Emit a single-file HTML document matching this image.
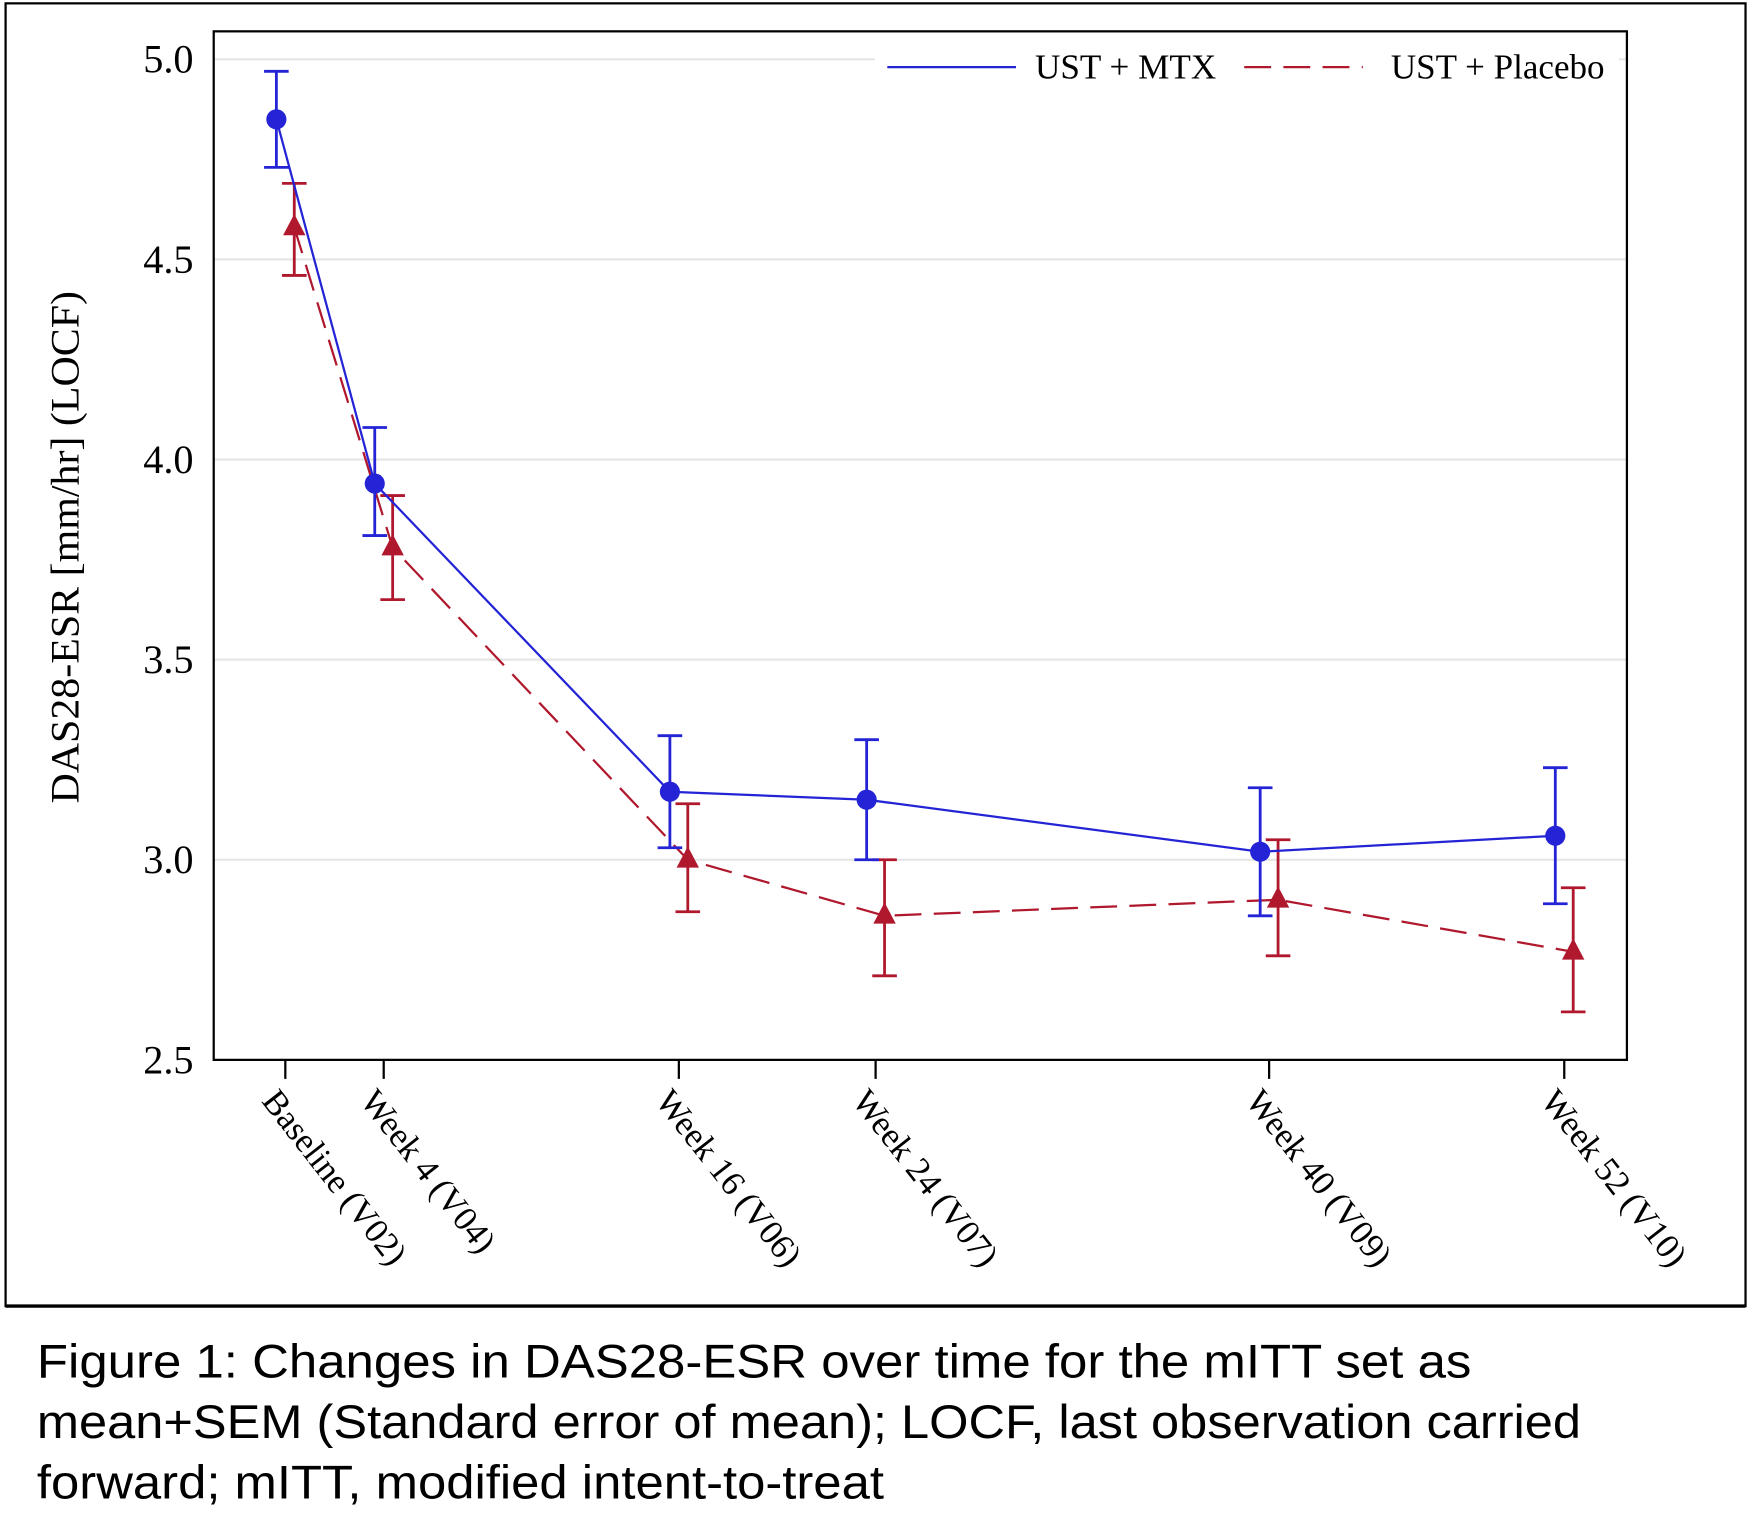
<!DOCTYPE html>
<html><head><meta charset="utf-8"><style>
html,body{margin:0;padding:0;background:#fff;width:1750px;height:1540px;overflow:hidden}
svg{display:block}
.ser{font-family:"Liberation Serif",serif}
.san{font-family:"Liberation Sans",sans-serif}
</style></head><body>
<svg id="chart" width="1750" height="1540" viewBox="0 0 1564 1376" preserveAspectRatio="none" xmlns="http://www.w3.org/2000/svg">
<rect x="5" y="3" width="1555" height="1164" fill="#fff" stroke="#000" stroke-width="2"/>
<line x1="5" y1="1167" x2="1560" y2="1167" stroke="#000" stroke-width="3"/>
<g id="grid"></g>
<g id="plot"></g>
<rect x="191" y="28" width="1263" height="919" fill="none" stroke="#000" stroke-width="2"/>
<g id="axes"></g>
<g>
<rect x="782" y="36" width="665" height="50" fill="#fff"/>
<line x1="793" y1="60" x2="908" y2="60" stroke="#2424d6" stroke-width="2"/>
<text class="ser" x="925" y="70" font-size="31" textLength="162" lengthAdjust="spacingAndGlyphs">UST + MTX</text>
<line x1="1112" y1="60" x2="1218" y2="60" stroke="#b0182e" stroke-width="2" stroke-dasharray="24,11"/>
<text class="ser" x="1243" y="70" font-size="31" textLength="191" lengthAdjust="spacingAndGlyphs">UST + Placebo</text>
</g>
<text class="ser" font-size="36" transform="translate(70,489) rotate(-90)" text-anchor="middle" textLength="458" lengthAdjust="spacingAndGlyphs">DAS28-ESR [mm/hr] (LOCF)</text>
<g class="san" font-size="42">
<text x="33" y="1231" textLength="1282" lengthAdjust="spacingAndGlyphs">Figure 1:  Changes in DAS28-ESR over time for the mITT set as</text>
<text x="33" y="1285" textLength="1380" lengthAdjust="spacingAndGlyphs">mean+SEM (Standard error of mean); LOCF, last observation carried</text>
<text x="33" y="1339" textLength="757" lengthAdjust="spacingAndGlyphs">forward; mITT, modified intent-to-treat</text>
</g>
</svg>
<script>
const categories = ["Baseline (V02)","Week 4 (V04)","Week 16 (V06)","Week 24 (V07)","Week 40 (V09)","Week 52 (V10)"];
const weeks = [0,4,16,24,40,52];
const mtxMean = [4.85,3.94,3.17,3.15,3.02,3.06];
const mtxLow = [4.73,3.81,3.03,3.00,2.86,2.89];
const mtxHigh = [4.97,4.08,3.31,3.30,3.18,3.23];
const pboMean = [4.58,3.78,3.00,2.86,2.90,2.77];
const pboLow = [4.46,3.65,2.87,2.71,2.76,2.62];
const pboHigh = [4.69,3.91,3.14,3.00,3.05,2.93];
const yTicks = [2.5,3.0,3.5,4.0,4.5,5.0];

const NS="http://www.w3.org/2000/svg";
function xs(w){return 255 + w*(1398-255)/52;}
function ys(v){return 947 - (v-2.5)*(947-53)/2.5;}
function mk(tag,attrs,parent){const e=document.createElementNS(NS,tag);for(const k in attrs)e.setAttribute(k,attrs[k]);parent.appendChild(e);return e;}
const grid=document.getElementById('grid'),plot=document.getElementById('plot'),axes=document.getElementById('axes');
yTicks.forEach(t=>{
  if(t>2.5){const g=mk('line',{x1:192,x2:1453,y1:ys(t),y2:ys(t),stroke:'#e6e6e6','stroke-width':2},grid);
  
  }
  const l=mk('text',{x:173,y:ys(t)+12,'text-anchor':'end','font-size':36,class:'ser'},axes);
  l.textContent=t.toFixed(1);
  
  
});
weeks.forEach((w,i)=>{
  const x=xs(w);
  const tk=mk('line',{x1:x,x2:x,y1:948,y2:964,stroke:'#000','stroke-width':2},axes);
  
  
  const t=mk('text',{x:0,y:0,'font-size':31,class:'ser',transform:`translate(${x-22},${984}) rotate(52)`},axes);
  t.textContent=categories[i];
  
  
});
function series(mean,lo,hi,off,color,dash,name){
  const pts=weeks.map((w,i)=>[xs(w)+off,ys(mean[i])]);
  const p=mk('polyline',{points:pts.map(p=>p.join(',')).join(' '),fill:'none',stroke:color,'stroke-width':2},plot);
  if(dash)p.setAttribute('stroke-dasharray',dash);
  
  
  weeks.forEach((w,i)=>{
    const x=xs(w)+off,a=ys(hi[i]),b=ys(lo[i]);
    const g=mk('path',{d:`M${x},${a}V${b}M${x-11},${a}H${x+11}M${x-11},${b}H${x+11}`,stroke:color,'stroke-width':2.5,fill:'none'},plot);
    
    
    let m;
    if(name==='mtx'){m=mk('circle',{cx:x,cy:ys(mean[i]),r:9,fill:color},plot);}
    else{const y=ys(mean[i]);m=mk('polygon',{points:`${x},${y-12} ${x-10},${y+7} ${x+10},${y+7}`,fill:color},plot);}
    
    
  });
}
series(pboMean,pboLow,pboHigh,8,'#b0182e','24,11','placebo');
series(mtxMean,mtxLow,mtxHigh,-8,'#2424d6',null,'mtx');
</script>
</body></html>
